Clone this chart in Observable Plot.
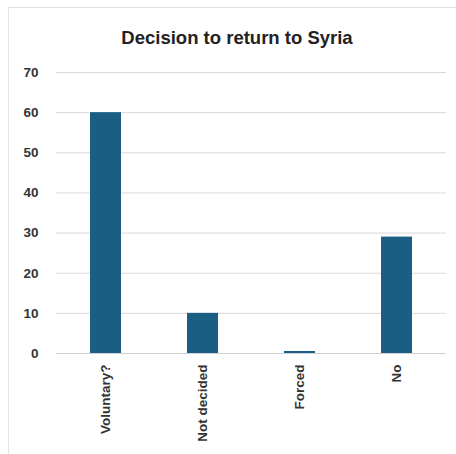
<!DOCTYPE html>
<html>
<head>
<meta charset="utf-8">
<script src="https://cdn.jsdelivr.net/npm/d3@7"></script>
<script src="https://cdn.jsdelivr.net/npm/@observablehq/plot@0.6"></script>
<style>
  html, body { margin: 0; padding: 0; background: #fff; }
  #wrap { position: relative; width: 456px; height: 454px; overflow: hidden; font-family: "Liberation Sans", Arial, sans-serif; }
  #frame { position: absolute; left: 8px; top: 7px; width: 460px; height: 460px; border-left: 1px solid #e2e2e2; border-top: 1px solid #e2e2e2; box-sizing: border-box; }
  #title { position: absolute; left: 0; top: 27px; width: 474px; text-align: center; font-weight: bold; font-size: 18.5px; color: #222; }
  #chart { position: absolute; left: 0; top: 0; }
</style>
</head>
<body>
<div id="wrap">
  <div id="frame"></div>
  <div id="title">Decision to return to Syria</div>
  <div id="chart"></div>
</div>
<script>
const categories = ["Voluntary?", "Not decided", "Forced", "No"];
const values = [60, 10, 0.5, 29];
const yTicks = [0, 10, 20, 30, 40, 50, 60, 70];

const data = categories.map((c, i) => ({category: c, value: values[i]}));

const plot = Plot.plot({
  width: 456,
  height: 454,
  marginTop: 72,
  marginBottom: 101,
  marginLeft: 56,
  marginRight: 10,
  style: {fontFamily: "Liberation Sans, Arial, sans-serif", fontWeight: "bold", fontSize: "13.5px", color: "#333", background: "transparent"},
  x: {domain: categories, label: null, paddingInner: 0.68, paddingOuter: 0.34, tickRotate: -90, tickSize: 0, tickPadding: 11},
  y: {domain: [0, 70], ticks: yTicks, label: null, tickSize: 0, tickPadding: 18},
  marks: [
    Plot.gridY(yTicks, {stroke: "#d9d9d9", strokeOpacity: 1}),
    Plot.barY(data, {x: "category", y: "value", fill: "#1a5e83"}),
    Plot.ruleY([0], {stroke: "#d0d0d0"})
  ]
});
document.getElementById("chart").appendChild(plot);
</script>
</body>
</html>
